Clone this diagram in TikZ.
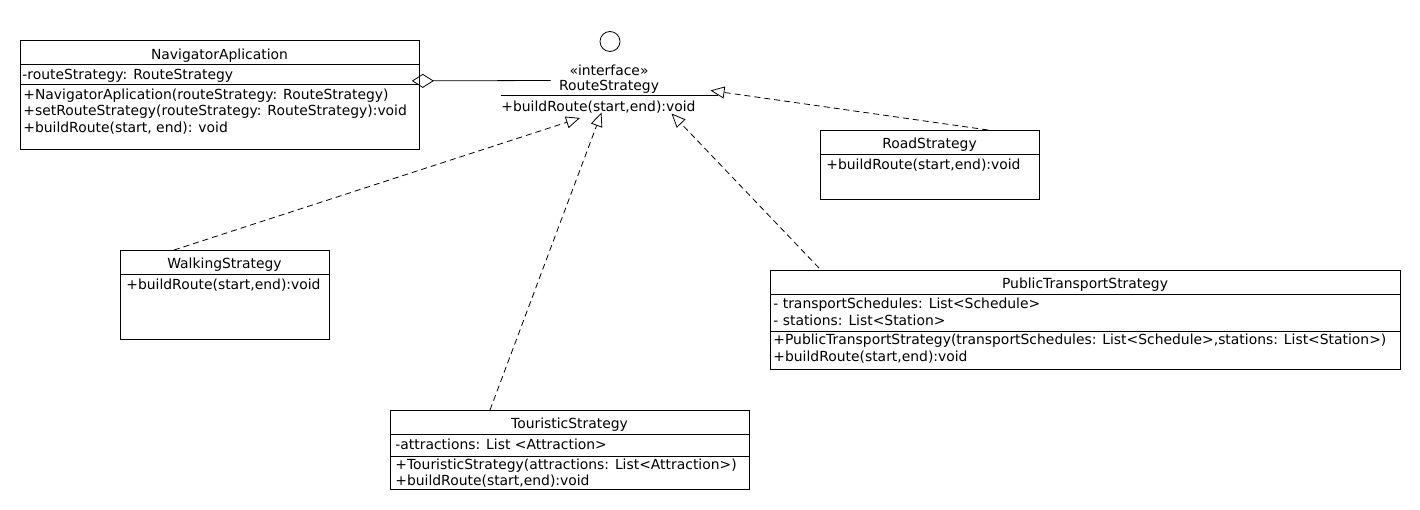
\documentclass[tikz,border=0pt]{standalone}
\usepackage{fontspec}
\setmainfont{DejaVu Sans}
\usetikzlibrary{arrows.meta}

\begin{document}
\begin{tikzpicture}[x=1pt, y=-1pt, line width=0.8pt,
  every node/.style={font=\fontsize{13.9}{16.8}\selectfont, inner sep=0pt},
  classbox/.style={draw, anchor=north west},
  classname/.style={anchor=north, execute at begin node=\strut},
  member/.style={anchor=north west, align=left, execute at begin node=\strut},
  realize/.style={dash pattern=on 6pt off 4pt, -{Triangle[open, length=14pt, width=12pt]}},
  aggregate/.style={{Diamond[open, length=22pt, width=14pt]}-},
]

\useasboundingbox (0,0) rectangle (1420,510);

% navigator class with its strategy field
\node[classbox, minimum width=399pt, minimum height=109pt] (nav) at (20,40) {};
\draw (20,64) -- (419,64) (20,84) -- (419,84);
\node[classname] (nav-name) at (219.5,47.1) {NavigatorAplication};
\node[member] (nav-attr) at (22,67.4) {-routeStrategy: RouteStrategy};
\node[member] (nav-ops) at (23,88.1)
{+NavigatorAplication(routeStrategy: RouteStrategy)\\
+setRouteStrategy(routeStrategy: RouteStrategy):void\\
+buildRoute(start, end): void};

% the interface, drawn as a ball
\node[draw, circle, minimum size=20pt] (iface-ball) at (610,41.5) {};
\node[classname] (iface-stereo) at (609,63.1) {«interface»};
\node[classname] (iface-name) at (609,78.1) {RouteStrategy};
\draw (501,95.5) -- (718,95.5);
\node[member] (iface-ops) at (501,99.1) {+buildRoute(start,end):void};

% concrete strategies
\node[classbox, minimum width=219pt, minimum height=69pt] (road) at (820,130) {};
\draw (820,154) -- (1039,154);
\node[classname] (road-name) at (929.5,136.4) {RoadStrategy};
\node[member] (road-ops) at (826,157.4) {+buildRoute(start,end):void};

\node[classbox, minimum width=209pt, minimum height=89pt] (walk) at (120,250) {};
\draw (120,274) -- (329,274);
\node[classname] (walk-name) at (224.5,256.4) {WalkingStrategy};
\node[member] (walk-ops) at (126,277.4) {+buildRoute(start,end):void};

\node[classbox, minimum width=630pt, minimum height=99pt] (pub) at (770,270) {};
\draw (770,294.3) -- (1400,294.3) (770,331.7) -- (1400,331.7);
\node[classname] (pub-name) at (1085,276.4) {PublicTransportStrategy};
\node[member] (pub-attr) at (773,297.4)
{- transportSchedules: List<Schedule>\\
- stations: List<Station>};
\node[member] (pub-ops) at (773,333.8)
{+PublicTransportStrategy(transportSchedules: List<Schedule>,stations: List<Station>)\\
+buildRoute(start,end):void};

\node[classbox, minimum width=359pt, minimum height=79pt] (tour) at (390,410) {};
\draw (390,434.3) -- (749,434.3) (390,456.7) -- (749,456.7);
\node[classname] (tour-name) at (569.5,416.4) {TouristicStrategy};
\node[member] (tour-attr) at (395,437.4) {-attractions: List <Attraction>};
\node[member] (tour-ops) at (395,458.1)
{+TouristicStrategy(attractions: List<Attraction>)\\
+buildRoute(start,end):void};

% connectors
\coordinate (iface-left) at (550.5,80.5);
\coordinate (tip-road) at (710.5,90.5);
\coordinate (tip-walk) at (580,118);
\coordinate (tip-tour) at (601.5,112.5);
\coordinate (tip-pub) at (671.5,113.5);

\draw[aggregate] ([shift={(-8,-14)}]nav.east) -- (iface-left);
\draw[realize] ([xshift=168pt]road.north west) -- (tip-road);
\draw[realize] ([xshift=54pt]walk.north west) -- (tip-walk);
\draw[realize] ([xshift=100pt]tour.north west) -- (tip-tour);
\draw[realize] ([shift={(49,-2)}]pub.north west) -- (tip-pub);

\end{tikzpicture}
\end{document}
